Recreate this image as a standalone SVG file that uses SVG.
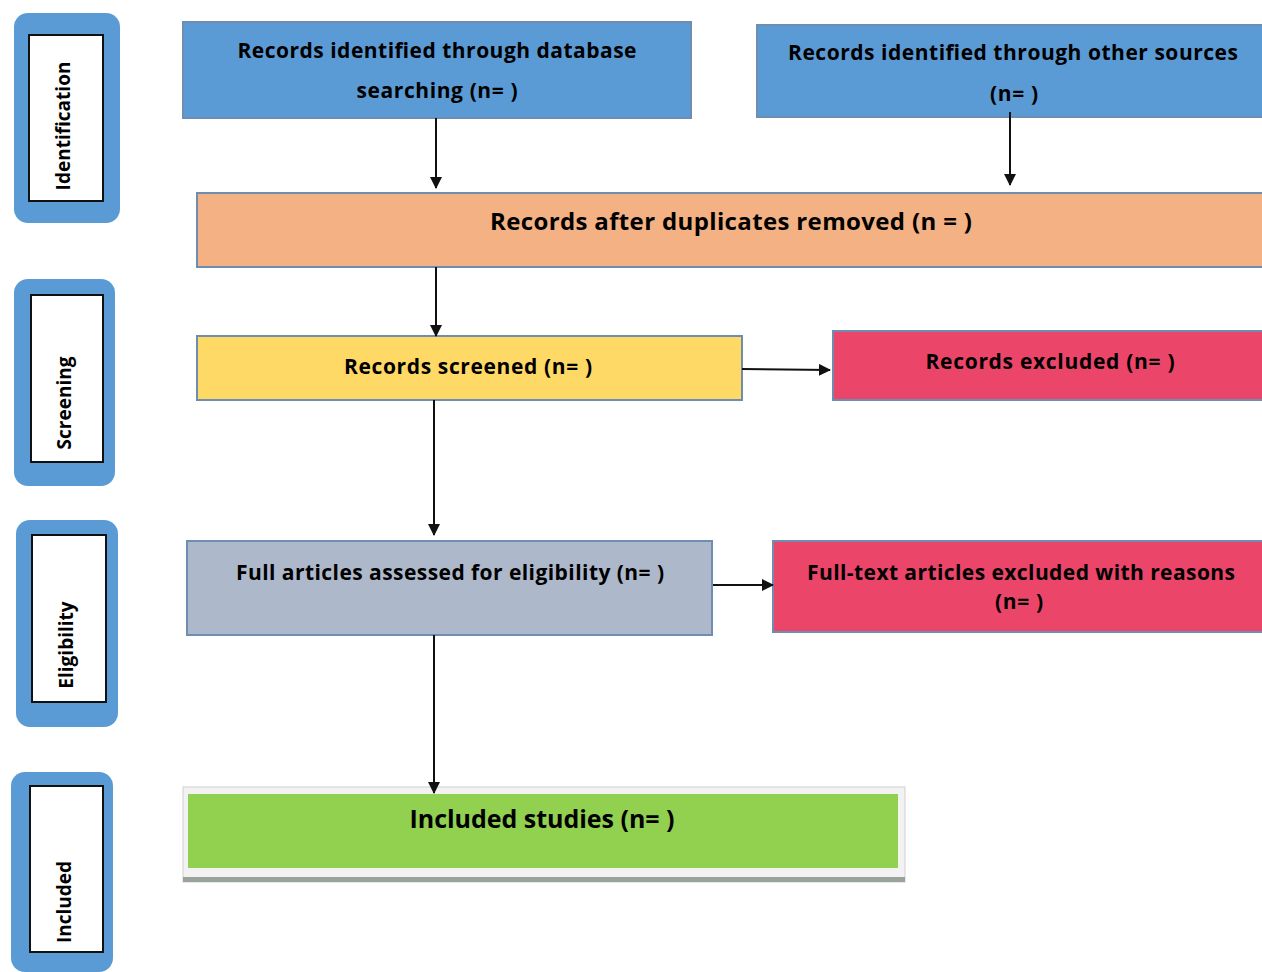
<svg xmlns="http://www.w3.org/2000/svg" width="1262" height="972" viewBox="0 0 1262 972">
<style>
.stage-outer{fill:#5b9bd5;}
.stage-inner{fill:#ffffff;stroke:#111;stroke-width:2;}
.stage-txt{font-family:"Open Sans","Liberation Sans",sans-serif;font-weight:bold;font-size:19px;fill:#000;text-anchor:middle;}
.box{stroke:#6f8db0;stroke-width:2;}
.t{font-family:"Open Sans","Liberation Sans",sans-serif;font-weight:bold;font-size:21px;fill:#000;text-anchor:middle;}
.t.big{font-size:24px;}
.t.big2{font-size:25px;}
.conn{stroke:#111;stroke-width:2;fill:none;marker-end:url(#ah);}
</style>
<defs>
<marker id="ah" markerWidth="12" markerHeight="12" refX="11" refY="6" orient="auto" markerUnits="userSpaceOnUse" viewBox="0 0 12 12">
<path d="M0,0 L12,6 L0,12 Z" fill="#111"/>
</marker>
</defs>
<rect width="1262" height="972" fill="#fff"/>

<g id="stage-identification">
<rect class="stage-outer" x="14" y="13" width="106" height="210" rx="14"/>
<rect class="stage-inner" x="29" y="35" width="74" height="166"/>
<text class="stage-txt" transform="translate(70,126) rotate(-90)">Identification</text>
</g>
<g id="stage-screening">
<rect class="stage-outer" x="14" y="279" width="101" height="207" rx="14"/>
<rect class="stage-inner" x="31" y="295" width="72" height="167"/>
<text class="stage-txt" transform="translate(71,403) rotate(-90)">Screening</text>
</g>
<g id="stage-eligibility">
<rect class="stage-outer" x="16" y="520" width="102" height="207" rx="14"/>
<rect class="stage-inner" x="32" y="535" width="74" height="167"/>
<text class="stage-txt" transform="translate(73,645) rotate(-90)">Eligibility</text>
</g>
<g id="stage-included">
<rect class="stage-outer" x="11" y="772" width="102" height="200" rx="14"/>
<rect class="stage-inner" x="30" y="786" width="73" height="166"/>
<text class="stage-txt" transform="translate(71,902) rotate(-90)">Included</text>
</g>

<g id="db">
<rect class="box" x="183" y="22" width="508" height="96" fill="#5b9bd5"/>
<text class="t" x="437" y="58" textLength="399" lengthAdjust="spacing">Records identified through database</text>
<text class="t" x="437" y="98" textLength="161" lengthAdjust="spacing">searching (n= )</text>
</g>
<g id="other">
<rect class="box" x="757" y="25" width="510" height="92" fill="#5b9bd5"/>
<text class="t" x="1013" y="60" textLength="450" lengthAdjust="spacing">Records identified through other sources</text>
<text class="t" x="1014" y="101" textLength="48" lengthAdjust="spacing">(n= )</text>
</g>
<g id="dedup">
<rect class="box" x="197" y="193" width="1070" height="74" fill="#f4b183"/>
<text class="t big" x="731" y="230" textLength="482" lengthAdjust="spacing">Records after duplicates removed (n = )</text>
</g>
<g id="screened">
<rect class="box" x="197" y="336" width="545" height="64" fill="#ffd966"/>
<text class="t" x="468" y="374" textLength="248" lengthAdjust="spacing">Records screened (n= )</text>
</g>
<g id="excluded">
<rect class="box" x="833" y="331" width="434" height="69" fill="#ec456a"/>
<text class="t" x="1050" y="369" textLength="249" lengthAdjust="spacing">Records excluded (n= )</text>
</g>
<g id="fulltext">
<rect class="box" x="187" y="541" width="525" height="94" fill="#adb9ca"/>
<text class="t" x="450" y="580" textLength="428" lengthAdjust="spacing">Full articles assessed for eligibility (n= )</text>
</g>
<g id="ft-excluded">
<rect class="box" x="773" y="541" width="494" height="91" fill="#ec456a"/>
<text class="t" x="1021" y="580" textLength="428" lengthAdjust="spacing">Full-text articles excluded with reasons</text>
<text class="t" x="1019" y="609" textLength="48" lengthAdjust="spacing">(n= )</text>
</g>
<g id="included">
<rect x="183" y="787" width="722" height="95" fill="#f2f2f2" stroke="#d0d0d0" stroke-width="1"/>
<rect x="183" y="877" width="722" height="5" fill="#9aa39a"/>
<rect x="188" y="794" width="710" height="74" fill="#92d050"/>
<text class="t big2" x="542" y="828" textLength="265" lengthAdjust="spacing">Included studies (n= )</text>
</g>

<g id="connectors">
<line class="conn" x1="436" y1="118" x2="436" y2="188"/>
<line class="conn" x1="1010" y1="112" x2="1010" y2="185"/>
<line class="conn" x1="436" y1="267" x2="436" y2="336"/>
<line class="conn" x1="742" y1="369" x2="830" y2="370"/>
<line class="conn" x1="434" y1="400" x2="434" y2="535"/>
<line class="conn" x1="713" y1="585" x2="773" y2="585"/>
<line class="conn" x1="434" y1="635" x2="434" y2="793"/>
</g>
</svg>
